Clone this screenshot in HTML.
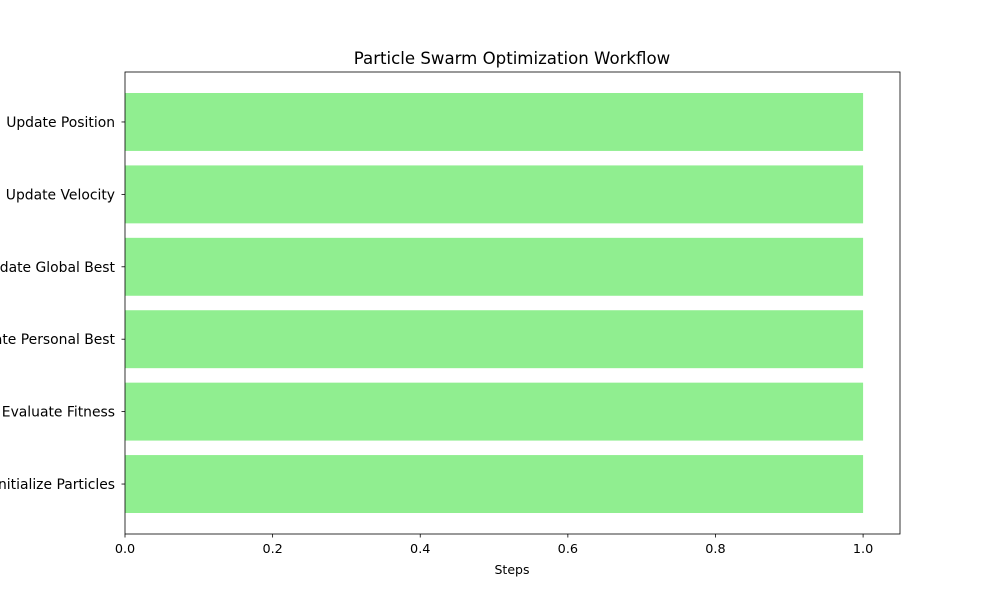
<!DOCTYPE html>
<html><head><meta charset="utf-8"><style>
body{margin:0;background:#fff;}
svg text{font-family:"DejaVu Sans","Liberation Sans",sans-serif;fill:#000;}
</style></head><body>
<svg id="chart" width="1000" height="600" xmlns="http://www.w3.org/2000/svg">
<rect width="1000" height="600" fill="#fff"/>
<text x="512" y="64" font-size="16.6" text-anchor="middle">Particle Swarm Optimization Workflow</text>
<g id="bars"></g>
<g id="axes"></g>
<text x="512" y="574" font-size="12.5" text-anchor="middle">Steps</text>
</svg>
<script>
const categories = ["Initialize Particles","Evaluate Fitness","Update Personal Best","Update Global Best","Update Velocity","Update Position"];
const values = [1,1,1,1,1,1];
const xTicks = [0,0.2,0.4,0.6,0.8,1.0];
const xTickLabels = ["0.0","0.2","0.4","0.6","0.8","1.0"];

const L=125,R=900,T=72,B=534;
const xMin=0,xMax=1.05,yMin=-0.69,yMax=5.69;
const xs=v=>L+(v-xMin)/(xMax-xMin)*(R-L);
const ys=v=>B-(v-yMin)/(yMax-yMin)*(B-T);
const NS="http://www.w3.org/2000/svg";
const bars=document.getElementById('bars'), axes=document.getElementById('axes');
function mk(tag,attrs,parent){const e=document.createElementNS(NS,tag);for(const k in attrs)e.setAttribute(k,attrs[k]);parent.appendChild(e);return e;}
categories.forEach((c,i)=>{
  const r=mk('rect',{x:xs(0),y:ys(i+0.4),width:xs(values[i])-xs(0),height:ys(i-0.4)-ys(i+0.4),fill:'#90ee90'},bars);
  
  
  const y=ys(i);
  mk('line',{x1:L-3.5,x2:L,y1:y,y2:y,stroke:'#000','stroke-width':0.8},axes);
  const t=mk('text',{x:L-10,y:y+5,'font-size':13.9,'text-anchor':'end'},axes);
  t.textContent=c;
  
  
});
xTicks.forEach((v,i)=>{
  const x=xs(v);
  mk('line',{x1:x,x2:x,y1:B,y2:B+3.5,stroke:'#000','stroke-width':0.8},axes);
  const t=mk('text',{x:x,y:B+19,'font-size':12.8,'text-anchor':'middle'},axes);
  t.textContent=xTickLabels[i];
  
  
});
const f=mk('rect',{x:L,y:T,width:R-L,height:B-T,fill:'none',stroke:'#000','stroke-width':0.8},axes);


</script>
</body></html>
